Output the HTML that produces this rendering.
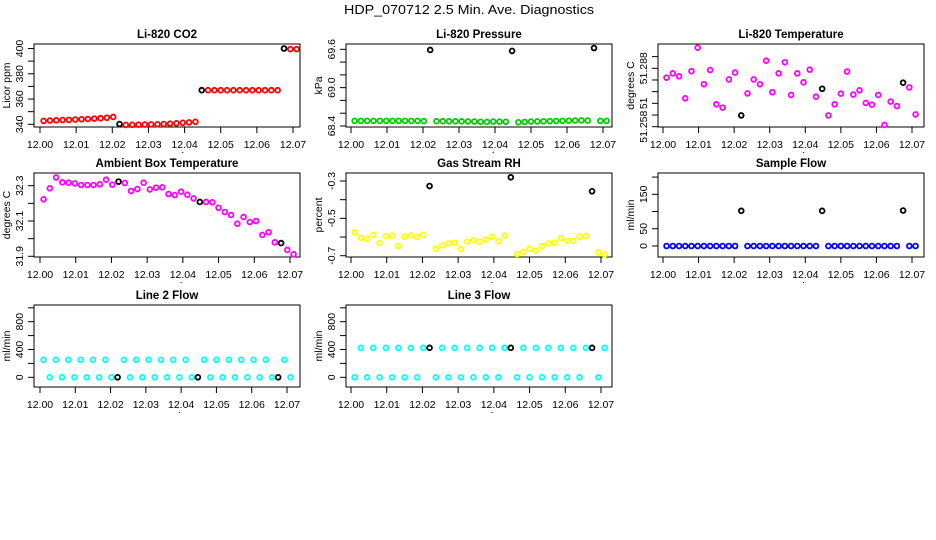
<!DOCTYPE html>
<html><head><meta charset="utf-8"><style>
html,body{margin:0;padding:0;background:#fff;}
svg{display:block;font-family:"Liberation Sans",sans-serif;}
</style></head><body>
<svg id="chart" width="936" height="540" viewBox="0 0 936 540" xmlns="http://www.w3.org/2000/svg">
<rect width="936" height="540" fill="#fff"/>
<text x="469" y="14" text-anchor="middle" font-size="13" textLength="250" lengthAdjust="spacingAndGlyphs">HDP_070712  2.5 Min. Ave. Diagnostics</text>
</svg>
<script>
const times = [12.001,12.00275,12.0045,12.00625,12.008,12.00975,12.0115,12.01325,12.015,12.01675,12.0185,12.02025,12.022,12.02375,12.0255,12.02725,12.029,12.03075,12.0325,12.03425,12.036,12.03775,12.0395,12.04125,12.043,12.04475,12.0465,12.04825,12.05,12.05175,12.0535,12.05525,12.057,12.05875,12.0605,12.06225,12.064,12.06575,12.0675,12.06925,12.071];
const blackIdx = [12,25,38];
const xTickLabels = ["12.00","12.01","12.02","12.03","12.04","12.05","12.06","12.07"];
const co2 = [342.7,343,343.2,343.4,343.5,343.8,344,344.2,344.5,344.8,345.2,345.8,340.2,339.5,339.6,339.7,339.8,339.9,340,340.2,340.5,340.8,341.2,341.5,342,367,367,367,367,367,367,367,367,367,367,367,367,367,400,399.5,399.5];
const pressure = [68.48,68.48,68.48,68.48,68.48,68.48,68.48,68.48,68.48,68.48,68.48,68.477,69.59,68.475,68.475,68.474,68.473,68.473,68.472,68.47,68.466,68.463,68.47,68.468,68.466,69.575,68.458,68.463,68.47,68.472,68.474,68.476,68.478,68.48,68.483,68.486,68.488,68.486,69.62,68.48,68.48];
const liTemp = [51.2832,51.2854,51.2839,51.2726,51.2865,51.2986,51.2798,51.2871,51.2695,51.2678,51.2823,51.2858,51.2638,51.2751,51.2823,51.2798,51.2919,51.2757,51.2854,51.2911,51.2743,51.2854,51.2808,51.2873,51.2734,51.2775,51.2638,51.2695,51.2750,51.2863,51.2745,51.2767,51.2702,51.2693,51.2743,51.2589,51.2709,51.2686,51.2806,51.2782,51.2643];
const boxTemp = [32.223,32.285,32.347,32.319,32.317,32.313,32.304,32.304,32.304,32.308,32.334,32.306,32.323,32.315,32.270,32.281,32.317,32.279,32.289,32.291,32.253,32.247,32.266,32.249,32.228,32.208,32.208,32.206,32.175,32.151,32.134,32.085,32.123,32.094,32.100,32.021,32.036,31.979,31.975,31.936,31.911];
const rh = [-0.575,-0.604,-0.609,-0.589,-0.632,-0.595,-0.593,-0.648,-0.598,-0.591,-0.600,-0.588,-0.327,-0.664,-0.645,-0.634,-0.630,-0.664,-0.625,-0.618,-0.625,-0.614,-0.598,-0.623,-0.593,-0.280,-0.691,-0.680,-0.663,-0.673,-0.648,-0.634,-0.630,-0.605,-0.620,-0.620,-0.598,-0.595,-0.355,-0.682,-0.693];
const sampleFlow = [0,0,0,0,0,0,0,0,0,0,0,0,102,0,0,0,0,0,0,0,0,0,0,0,0,102,0,0,0,0,0,0,0,0,0,0,0,0,103,0,0];
const line2 = [252,0,252,0,252,0,252,0,252,0,252,0,0,252,0,252,0,252,0,252,0,252,0,252,0,0,252,0,252,0,252,0,252,0,252,0,252,0,0,252,0];
const line3 = [0,424,0,424,0,424,0,424,0,424,0,424,424,0,424,0,424,0,424,0,424,0,424,0,424,424,0,424,0,424,0,424,0,424,0,424,0,424,424,0,424];
const co2Ticks=[340,350,360,370,380,390,400], co2Labels=["340","","360","","380","","400"];
const presTicks=[68.4,68.6,68.8,69.0,69.2,69.4,69.6], presLabels=["68.4","","","69.0","","","69.6"];
const liTTicks=[51.258,51.264,51.270,51.276,51.282,51.288,51.294], liTLabels=["51.258","","51","","","51.288",""];
const boxTTicks=[31.9,32.0,32.1,32.2,32.3], boxTLabels=["31.9","","32.1","","32.3"];
const rhTicks=[-0.7,-0.6,-0.5,-0.4,-0.3], rhLabels=["-0.7","","-0.5","","-0.3"];
const sfTicks=[0,50,100,150,200], sfLabels=["0","50","","150",""];
const flowTicks=[0,200,400,600,800,1000], flowLabels=["0","","400","","800",""];

const NS="http://www.w3.org/2000/svg";
const svg=document.getElementById('chart');
function mk(tag,attrs,parent){const e=document.createElementNS(NS,tag);for(const k in attrs)e.setAttribute(k,attrs[k]);(parent||svg).appendChild(e);return e;}

function panel(o){
  const g=mk('g',{});
  
  
  const xs=t=>o.x0+(t-12.00)/(0.07)*(o.x1-o.x0);
  const ys=v=>o.y0+(v-o.v0)/(o.v1-o.v0)*(o.yv1-o.y0);
  const box=mk('rect',{x:o.bl,y:o.bt,width:o.br-o.bl,height:o.bb-o.bt,fill:'none',stroke:'#000','stroke-width':1},g);
  
  
  const t=mk('text',{x:(o.bl+o.br)/2,y:o.bt-6,'text-anchor':'middle','font-size':11.5,'font-weight':'bold'},g);
  t.textContent=o.title;
  
  
  xTickLabels.forEach((lab,i)=>{
    const x=xs(12+i*0.01);
    const tk=mk('line',{x1:x,x2:x,y1:o.bb,y2:o.bb+6,stroke:'#000'},g);
    
    
    const tl=mk('text',{x:x,y:o.bb+21,'text-anchor':'middle','font-size':10.5},g);
    tl.textContent=lab;
    
    
  });
  const dot=mk('rect',{x:xs(12.0395)-0.5,y:o.bb+25,width:1,height:1,fill:'#000'},g);
  
  
  o.ticks.forEach((v,i)=>{
    const y=ys(v);
    const tk=mk('line',{x1:o.bl-6,x2:o.bl,y1:y,y2:y,stroke:'#000'},g);
    
    
    if(o.labels[i]){
      const lx=o.bl-11;
      const tl=mk('text',{x:lx,y:y,'text-anchor':'middle','font-size':10.5,transform:`rotate(-90 ${lx} ${y})`},g);
      tl.textContent=o.labels[i];
      
      
    }
  });
  const yl=o.bl-24, ym=(o.bt+o.bb)/2;
  const ylab=mk('text',{x:yl,y:ym,'text-anchor':'middle','font-size':10.5,transform:`rotate(-90 ${yl} ${ym})`},g);
  ylab.textContent=o.ylab;
  
  
  o.data.forEach((v,i)=>{
    const blk=blackIdx.includes(i);
    const c=mk('circle',{cx:xs(times[i]),cy:ys(v),r:2.4,fill:'none',stroke:blk?'#000':o.color,'stroke-width':1.8},g);
    
    
  });
}
const C1={bl:34,br:300}, C2={bl:346,br:612}, C3={bl:658,br:924};
const R1={bt:44,bb:127}, R2={bt:173,bb:257}, R3={bt:305,bb:387};
panel({name:'li820-co2',title:'Li-820 CO2',ylab:'Licor ppm',color:'#f00',data:co2,ticks:co2Ticks,labels:co2Labels,...C1,...R1,x0:40,x1:293,v0:340,y0:124.3,v1:400,yv1:48.5});
panel({name:'li820-pressure',title:'Li-820 Pressure',ylab:'kPa',color:'#0c0',data:pressure,ticks:presTicks,labels:presLabels,...C2,...R1,x0:351,x1:603,v0:68.4,y0:126,v1:69.6,yv1:49.3});
panel({name:'li820-temperature',title:'Li-820 Temperature',ylab:'degrees C',color:'#f0f',data:liTemp,ticks:liTTicks,labels:liTLabels,...C3,...R1,x0:663,x1:912,v0:51.258,y0:126.7,v1:51.288,yv1:68.3});
panel({name:'ambient-box-temperature',title:'Ambient Box Temperature',ylab:'degrees C',color:'#f0f',data:boxTemp,ticks:boxTTicks,labels:boxTLabels,...C1,...R2,x0:40,x1:290,v0:31.9,y0:256.3,v1:32.3,yv1:185.7});
panel({name:'gas-stream-rh',title:'Gas Stream RH',ylab:'percent',color:'#ff0',data:rh,ticks:rhTicks,labels:rhLabels,...C2,...R2,x0:351,x1:601,v0:-0.7,y0:255.7,v1:-0.3,yv1:181});
panel({name:'sample-flow',title:'Sample Flow',ylab:'ml/min',color:'#00f',data:sampleFlow,ticks:sfTicks,labels:sfLabels,...C3,...R2,x0:663,x1:912,v0:0,y0:246,v1:150,yv1:194.3});
panel({name:'line-2-flow',title:'Line 2 Flow',ylab:'ml/min',color:'#0ff',data:line2,ticks:flowTicks,labels:flowLabels,...C1,...R3,x0:40,x1:287,v0:0,y0:377.3,v1:800,yv1:321.7});
panel({name:'line-3-flow',title:'Line 3 Flow',ylab:'ml/min',color:'#0ff',data:line3,ticks:flowTicks,labels:flowLabels,...C2,...R3,x0:351,x1:601,v0:0,y0:377.3,v1:800,yv1:321.7});
</script>
</body></html>
